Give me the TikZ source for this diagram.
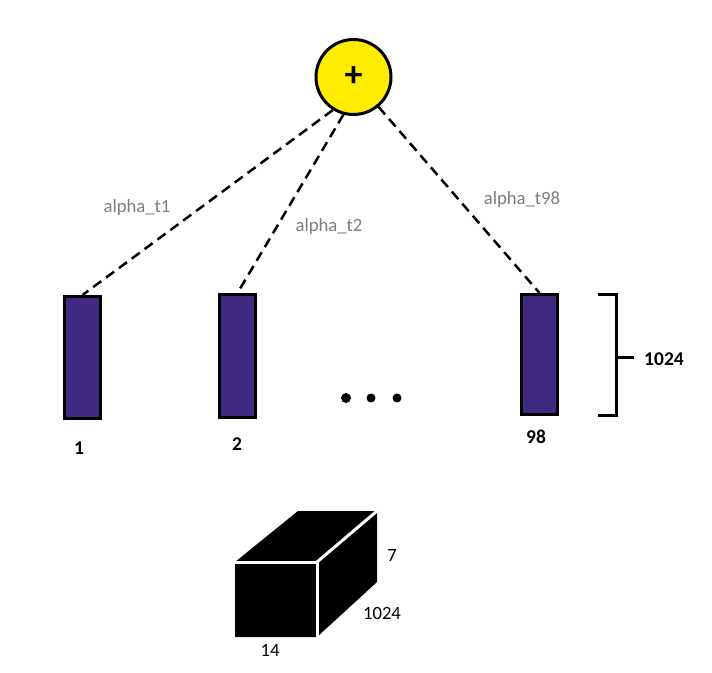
\documentclass[tikz,border=0pt]{standalone}
\usepackage{fontspec}
\setmainfont{Carlito}
\begin{document}
\begin{tikzpicture}[x=1pt,y=-1pt,
  every node/.style={font=\fontsize{18.7}{22}\selectfont},
  sumnode/.style={circle,draw=black,line width=3pt,fill=yellow!95!orange,minimum size=75pt,inner sep=0pt,font=\fontsize{36}{38}\selectfont\bfseries},
  bar/.style={rectangle,draw=black,line width=3pt,fill=barpurple,minimum width=36pt,inner sep=0pt},
  weight/.style={dashed,dash pattern=on 10pt off 6pt,line width=2.5pt},
  wlabel/.style={text=labelgray,inner sep=0pt},
  numlabel/.style={font=\fontsize{19.5}{22}\selectfont\bfseries,inner sep=0pt},
  dimlabel/.style={inner sep=0pt},
  dot/.style={circle,fill=black,inner sep=0pt,minimum size=9pt},
]
\definecolor{barpurple}{RGB}{64,42,130}
\definecolor{labelgray}{RGB}{125,125,125}
\definecolor{yellow}{RGB}{255,242,0}
\useasboundingbox (0,0) rectangle (712,672);

\node[sumnode] (plus) at (353.5,77) {+};

\node[bar,minimum height=122pt] (b1) at (82.5,357.5) {};
\node[bar,minimum height=123pt] (b2) at (237.5,356) {};
\node[bar,minimum height=120pt] (b98) at (539.5,354.5) {};

\draw[weight] (plus.238) -- (b1.north);
\draw[weight] (plus.255) -- (b2.north);
\draw[weight] (plus.310) -- (b98.north);

\node[wlabel] (l1) at (137,208) {alpha\_t1};
\node[wlabel] (l2) at (329,227) {alpha\_t2};
\node[wlabel] (l98) at (522,200) {alpha\_t98};

\node[numlabel] (n1) at (79,448) {1};
\node[numlabel] (n2) at (237,444) {2};
\node[numlabel] (n98) at (536,437) {98};

\node[dot,minimum size=10pt] (d1) at (346,398) {};
\node[dot] (d2) at (371,398) {};
\node[dot] (d3) at (397,398) {};

% bracket
\draw[line width=3pt] (598,294) -- (616,294) -- (616,415) -- (598,415);
\draw[line width=3pt] (616,357) -- (634,357);
\node[numlabel] (br) at (664,359) {1024};

% cube
\fill[black] (235,562) -- (298,511) -- (377,511) -- (377,582) -- (317,637) -- (235,637) -- cycle;
\draw[white,line width=3pt] (235,562) -- (317,562) -- (317,637);
\draw[white,line width=3pt] (317,562) -- (377,511);
\node[dimlabel] (c7) at (392,555) {7};
\node[dimlabel] (c1024) at (382,613) {1024};
\node[dimlabel] (c14) at (270,650) {14};
\end{tikzpicture}
\end{document}
